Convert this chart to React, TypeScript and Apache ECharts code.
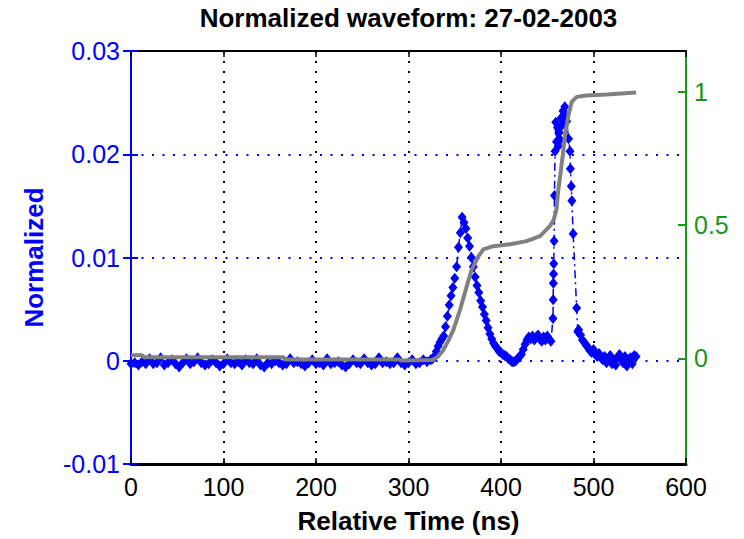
import { useEffect, useRef } from "react";
import * as echarts from "echarts";

// ---- data ----
const titleText = "Normalized waveform: 27-02-2003";
const xAxisName = "Relative Time (ns)";
const yAxisName = "Normalized";
const xTicks = { min: 0, max: 600, step: 100 };
const leftTicks = { min: -0.01, max: 0.03, step: 0.01 };
const rightRange = { min: -0.396, max: 1.153 };
const rightTickValues = [0, 0.5, 1];

// normalized waveform (left axis): baseline part
const baseTimes = [
  0, 4, 8, 12, 16, 20, 24, 28, 32, 36,
  40, 44, 48, 52, 56, 60, 64, 68, 72, 76,
  80, 84, 88, 92, 96, 100, 104, 108, 112, 116,
  120, 124, 128, 132, 136, 140, 144, 148, 152, 156,
  160, 164, 168, 172, 176, 180, 184, 188, 192, 196,
  200, 204, 208, 212, 216, 220, 224, 228, 232, 236,
  240, 244, 248, 252, 256, 260, 264, 268, 272, 276,
  280, 284, 288, 292, 296, 300, 304, 308, 312, 316,
  320, 324,
];
const baseValues = [
  -0.0003, -0.0002, -0.0004, -0.0001, -0.0003, 0.0002, -0.0003, -0.0002, 0.0003, -0.0004,
  -0.0002, 0.0001, -0.0003, -0.0006, -0.0002, 0.0002, -0.0003, -0.0001, 0.0003, -0.0002,
  -0.0004, -0.0003, 0.0001, -0.0002, -0.0005, -0.0003, 0.0002, -0.0002, -0.0003, -0.0001,
  -0.0004, 0.0001, -0.0002, -0.0003, 0.0002, -0.0004, -0.0006, -0.0002, -0.0003, 0.0,
  -0.0002, -0.0004, -0.0003, 0.0002, -0.0002, -0.0001, -0.0003, -0.0005, -0.0002, 0.0001,
  -0.0003, -0.0002, -0.0004, 0.0002, -0.0003, -0.0002, -0.0001, -0.0004, -0.0006, -0.0003,
  0.0001, -0.0002, -0.0003, 0.0002, -0.0002, -0.0004, -0.0003, 0.0003, -0.0002, -0.0001,
  -0.0003, -0.0002, 0.0003, -0.0002, -0.0004, -0.0002, 0.0001, -0.0003, -0.0002, 0.0001,
  -0.0001, 0.0001,
];
// normalized waveform: active part
const activeTimes = [
  326, 328, 330, 332, 334, 336, 338, 340, 342, 344,
  346, 348, 350, 352, 354, 356, 358, 360, 362, 364,
  366, 368, 370, 372, 374, 376, 378, 380, 382, 384,
  386, 388, 390, 392, 394, 396, 398, 400, 402, 404,
  406, 408, 410, 412, 414, 416, 418, 420, 422, 424,
  426, 428, 430, 432, 434, 436, 438, 440, 442, 444,
  446, 448, 450, 452, 454, 456.2, 456.4, 456.6, 456.8, 457.0,
  457.4, 457.8, 458.4, 459.2, 460, 461, 462, 463, 464, 465,
  466, 467, 468, 469, 471, 473, 474.6, 475, 476, 476.6,
  478, 481.8, 483, 484, 486, 488, 490, 492, 494, 496,
  498, 500, 502, 504, 506, 508, 510, 512, 514, 516,
  518, 520, 522, 524, 526, 528, 530, 532, 534, 536,
  538, 540, 542, 544, 546,
];
const activeValues = [
  0.0002, 0.0004, 0.0009, 0.0014, 0.0018, 0.0021, 0.0024, 0.0033, 0.0043, 0.0054,
  0.0063, 0.0071, 0.008, 0.0091, 0.011, 0.0124, 0.0139, 0.0134, 0.0128, 0.0119,
  0.0111, 0.01, 0.0091, 0.0081, 0.0073, 0.0066, 0.0058, 0.0052, 0.0045, 0.0039,
  0.0032, 0.0026, 0.0021, 0.0017, 0.0014, 0.0012, 0.0009, 0.0008, 0.0006, 0.0005,
  0.0004, 0.0002, 0.0001, -0.0001, -0.0001, 0.0, 0.0002, 0.0004, 0.0006, 0.0011,
  0.0016, 0.002, 0.0023, 0.0021, 0.0024, 0.002, 0.0023, 0.0025, 0.0021, 0.0019,
  0.0023, 0.002, 0.0024, 0.0021, 0.0019, 0.0041, 0.0059, 0.0075, 0.0084, 0.0094,
  0.0116, 0.016, 0.0203, 0.0231, 0.0212, 0.0226, 0.0208, 0.0221, 0.0214, 0.0235,
  0.0228, 0.0242, 0.0238, 0.0246, 0.0232, 0.0215, 0.0203, 0.0186, 0.0169, 0.0155,
  0.0123, 0.0051, 0.0028, 0.003, 0.0025, 0.002, 0.0018, 0.0015, 0.0013, 0.001,
  0.0008, 0.0011, 0.0006, 0.0004, 0.0007, 0.0003, 0.0001, 0.0004, -0.0002, 0.0002,
  0.0005, -0.0003, 0.0001, -0.0004, 0.0003, 0.0006, 0.0002, -0.0002, 0.0004, -0.0005,
  0.0001, 0.0003, -0.0003, 0.0005, 0.0004,
];

// cumulative (right axis)
const cumTimes = [
  0, 12, 14, 165, 167, 290, 292, 326, 331, 337.6,
  343, 348.5, 355.7, 362.9, 368.3, 375.5, 380.9, 391.7, 409.7, 427.7,
  442.2, 453, 457, 460, 462, 464.6, 466.7, 469.2, 472.8, 476.4,
  481.8, 492, 514, 530, 546,
];
const cumValues = [
  0.012, 0.012, 0.004, 0.004, -0.004, -0.004, -0.008, -0.006, 0.004, 0.031,
  0.066, 0.107, 0.182, 0.27, 0.333, 0.383, 0.409, 0.421, 0.428, 0.44,
  0.459, 0.497, 0.52, 0.56, 0.635, 0.7, 0.76, 0.836, 0.91, 0.962,
  0.981, 0.986, 0.99, 0.994, 0.997,
];

const FONT = "'Liberation Sans', Arial, Helvetica, sans-serif";
const BLUE = "#0000ff";
const GREEN = "#1a961a";

export default function App() {
  const ref = useRef<HTMLDivElement>(null);
  useEffect(() => {
    const chart = echarts.init(ref.current!, null, { renderer: "svg" });
    const waveData = [
      ...baseTimes.map((t, i) => [t, baseValues[i]]),
      ...activeTimes.map((t, i) => [t, activeValues[i]]),
    ];
    const cumData = cumTimes.map((t, i) => [t, cumValues[i]]);
    chart.setOption({
      animation: false,
      backgroundColor: "#ffffff",
      textStyle: { fontFamily: FONT },
      graphic: [
        {
          type: "text",
          x: 408.5,
          y: 18,
          style: {
            text: titleText,
            fontFamily: FONT,
            fontSize: 26,
            fontWeight: "bold",
            fill: "#000",
            textAlign: "center",
            textVerticalAlign: "middle",
          },
        },
      ],
      grid: { left: 131, right: 58, top: 51, bottom: 75, containLabel: false },
      xAxis: [
        {
          type: "value",
          position: "bottom",
          min: xTicks.min,
          max: xTicks.max,
          interval: xTicks.step,
          name: xAxisName,
          nameLocation: "middle",
          nameGap: 44,
          nameTextStyle: { fontFamily: FONT, fontSize: 26, fontWeight: "bold", color: "#000" },
          axisLine: { show: true, onZero: false, lineStyle: { color: "#000", width: 3 } },
          axisTick: { show: true, inside: true, length: 6, lineStyle: { color: "#000", width: 1.5 } },
          axisLabel: { show: true, color: "#000", fontSize: 25, fontFamily: FONT, margin: 10 },
          splitLine: { show: true, lineStyle: { color: "#000", width: 2, type: [2, 8] } },
        },
        {
          type: "value",
          position: "top",
          min: xTicks.min,
          max: xTicks.max,
          interval: xTicks.step,
          axisLine: { show: true, onZero: false, lineStyle: { color: "#000", width: 2 } },
          axisTick: { show: true, inside: true, length: 6, lineStyle: { color: "#000", width: 1.5 } },
          axisLabel: { show: false },
          splitLine: { show: false },
        },
      ],
      yAxis: [
        {
          type: "value",
          position: "left",
          min: leftTicks.min,
          max: leftTicks.max,
          interval: leftTicks.step,
          name: yAxisName,
          nameLocation: "middle",
          nameRotate: 90,
          nameGap: 84,
          nameTextStyle: { fontFamily: FONT, fontSize: 26, fontWeight: "bold", color: BLUE },
          axisLine: { show: true, onZero: false, lineStyle: { color: BLUE, width: 2 } },
          axisTick: { show: true, inside: true, length: 7, lineStyle: { color: BLUE, width: 2 } },
          axisLabel: { show: true, color: BLUE, fontSize: 25, fontFamily: FONT, margin: 11 },
          splitLine: { show: true, lineStyle: { color: BLUE, width: 2, type: [2, 8.5] } },
        },
        {
          type: "value",
          position: "right",
          min: rightRange.min,
          max: rightRange.max,
          axisLine: { show: true, onZero: false, lineStyle: { color: GREEN, width: 2 } },
          axisTick: {
            show: true,
            inside: true,
            length: 8,
            customValues: rightTickValues,
            lineStyle: { color: GREEN, width: 2 },
          },
          axisLabel: {
            show: true,
            color: GREEN,
            fontSize: 25,
            fontFamily: FONT,
            margin: 8,
            customValues: rightTickValues,
          },
          splitLine: { show: false },
        },
        {
          type: "value",
          position: "right",
          min: leftTicks.min,
          max: leftTicks.max,
          interval: leftTicks.step,
          axisLine: { show: false },
          axisTick: { show: true, inside: true, length: 8, lineStyle: { color: BLUE, width: 2 } },
          axisLabel: { show: false },
          splitLine: { show: false },
        },
      ],
      series: [
        {
          type: "line",
          xAxisIndex: 0,
          yAxisIndex: 0,
          data: waveData,
          symbol: "diamond",
          symbolSize: [9, 11],
          showAllSymbol: true,
          clip: false,
          silent: true,
          itemStyle: { color: BLUE, borderWidth: 0 },
          lineStyle: { color: BLUE, width: 1.5, type: [8, 4, 2, 4] },
          emphasis: { disabled: true },
          z: 3,
        },
        {
          type: "line",
          xAxisIndex: 0,
          yAxisIndex: 1,
          data: cumData,
          symbol: "none",
          silent: true,
          lineStyle: { color: "#808080", width: 4 },
          emphasis: { disabled: true },
          z: 4,
        },
      ],
    });
    return () => chart.dispose();
  }, []);
  return (
    <div
      ref={ref}
      style={{ position: "fixed", left: 0, top: 0, width: 744, height: 539, background: "#fff" }}
    />
  );
}
